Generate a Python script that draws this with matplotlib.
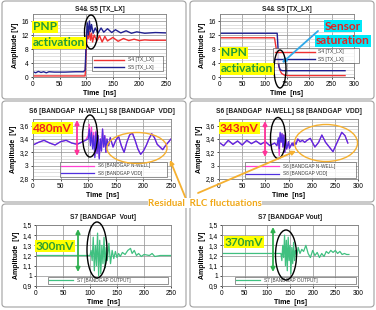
import matplotlib
matplotlib.use("Agg")
import matplotlib.pyplot as plt
from matplotlib.patches import Ellipse, FancyBboxPatch, FancyArrowPatch
from matplotlib.ticker import MultipleLocator

W, H = 376, 310
plt.rcParams['font.family'] = ['Liberation Sans', 'DejaVu Sans']
fig = plt.figure(figsize=(W / 100, H / 100), dpi=100)

# ---------------- data ----------------
p1_title = "S4& S5 [TX_LX]"
p1_s4_x = [0, 95, 98, 100, 102, 104, 106, 108, 110, 112, 115, 120, 125, 130, 135, 140, 150, 160, 170, 180, 190, 200, 210, 220, 250]
p1_s4_y = [0.3, 0.3, 0.3, 8, 12, 11, 13, 10.5, 12.5, 10, 12, 10.3, 11.8, 10, 11.6, 10.3, 11.3, 10.2, 11.0, 10.4, 10.8, 10.4, 10.6, 10.5, 10.5]
p1_s5_x = [0, 5, 10, 15, 20, 25, 30, 40, 60, 80, 95, 98, 100, 102, 104, 106, 108, 110, 113, 117, 122, 128, 133, 140, 148, 155, 165, 175, 185, 195, 210, 230, 250]
p1_s5_y = [1.5, 1.2, 1.6, 1.3, 1.5, 1.2, 1.5, 1.4, 1.4, 1.5, 1.5, 2, 10, 15.5, 12, 16, 13, 15, 12.5, 14, 12.5, 14, 12.8, 13.8, 12.7, 13.5, 12.6, 13.2, 12.5, 12.9, 12.5, 12.7, 12.6]

p2_title = "S4& S5 [TX_LX]"
p2_s4_x = [0, 122, 126, 130, 134, 138, 145, 155, 280]
p2_s4_y = [11.2, 11.2, 8, 4, 2, 1, 0.5, 0.4, 0.4]
p2_s5_x = [0, 128, 130, 132, 135, 140, 280]
p2_s5_y = [12.5, 12.5, 8, 3, 2, 1.8, 1.8]

series_tx = ["S4 [TX_LX]", "S5 [TX_LX]"]

p3_title = "S6 [BANDGAP  N-WELL] S8 [BANDGAP  VDD]"
p3_x = [0, 10, 20, 30, 40, 50, 60, 70, 80, 90, 95, 100, 102, 104, 106, 108, 110, 112, 114, 116, 118, 120, 122, 124, 126, 128, 130, 132, 134, 137, 140, 145, 150, 155, 160, 165, 170, 175, 180, 185, 190, 195, 200, 205, 210, 215, 220, 225, 230, 235, 240, 245, 250]
p3_s8 = [3.31, 3.35, 3.38, 3.34, 3.31, 3.36, 3.38, 3.34, 3.32, 3.36, 3.38, 3.40, 3.55, 3.30, 3.50, 3.25, 3.45, 3.12, 3.50, 3.18, 3.45, 3.10, 3.40, 3.22, 3.55, 3.28, 3.45, 3.20, 3.40, 3.30, 3.42, 3.28, 3.38, 3.44, 3.30, 3.20, 3.35, 3.46, 3.49, 3.38, 3.25, 3.17, 3.22, 3.30, 3.40, 3.48, 3.42, 3.32, 3.28, 3.24, 3.30, 3.35, 3.40]
p3_s6 = [3.31, 3.35, 3.38, 3.34, 3.31, 3.36, 3.38, 3.34, 3.32, 3.36, 3.38, 3.45, 3.62, 3.35, 3.58, 3.28, 3.50, 3.15, 3.52, 3.20, 3.45, 3.12, 3.40, 3.22, 3.55, 3.28, 3.45, 3.20, 3.40, 3.30, 3.42, 3.28, 3.38, 3.44, 3.30, 3.20, 3.35, 3.46, 3.49, 3.38, 3.25, 3.17, 3.22, 3.30, 3.40, 3.48, 3.42, 3.32, 3.28, 3.24, 3.30, 3.35, 3.40]

p4_x = [0, 10, 20, 30, 40, 50, 60, 70, 80, 90, 100, 110, 120, 125, 128, 130, 132, 134, 136, 138, 140, 142, 144, 146, 148, 150, 152, 155, 158, 160, 163, 166, 170, 175, 180, 185, 190, 197, 207, 215, 222, 230, 238, 246, 255, 265, 272, 278]
p4_s8 = [3.35, 3.30, 3.38, 3.32, 3.37, 3.31, 3.38, 3.33, 3.37, 3.32, 3.36, 3.30, 3.34, 3.30, 3.42, 3.25, 3.50, 3.35, 3.48, 3.28, 3.46, 3.20, 3.40, 3.25, 3.30, 3.36, 3.26, 3.30, 3.34, 3.30, 3.36, 3.32, 3.40, 3.36, 3.38, 3.35, 3.38, 3.41, 3.28, 3.35, 3.46, 3.35, 3.28, 3.21, 3.35, 3.50, 3.45, 3.34]
p4_s6 = [3.35, 3.30, 3.38, 3.32, 3.37, 3.31, 3.38, 3.33, 3.37, 3.32, 3.36, 3.30, 3.34, 3.30, 3.40, 3.15, 3.48, 3.35, 3.48, 3.28, 3.46, 3.20, 3.40, 3.25, 3.30, 3.36, 3.26, 3.30, 3.34, 3.30, 3.36, 3.32, 3.40, 3.36, 3.38, 3.35, 3.38, 3.41, 3.28, 3.35, 3.46, 3.35, 3.28, 3.21, 3.35, 3.50, 3.45, 3.34]

series_bg = ["S6 [BANDGAP N-WELL]", "S8 [BANDGAP VDD]"]

p5_title = "S7 [BANDGAP  Vout]"
p5_x = [0, 50, 100, 102, 104, 106, 108, 110, 112, 114, 116, 118, 120, 122, 124, 126, 128, 130, 132, 135, 138, 141, 144, 147, 150, 153, 156, 160, 165, 170, 175, 178, 182, 186, 190, 195, 200, 210, 215, 220, 230, 240, 250]
p5_s7 = [1.2, 1.2, 1.2, 1.25, 1.15, 1.38, 1.05, 1.30, 1.10, 1.42, 1.00, 1.35, 1.02, 1.30, 1.12, 1.38, 1.08, 1.28, 1.15, 1.32, 1.12, 1.25, 1.17, 1.24, 1.18, 1.22, 1.19, 1.23, 1.21, 1.25, 1.27, 1.22, 1.25, 1.20, 1.22, 1.19, 1.21, 1.20, 1.22, 1.19, 1.20, 1.20, 1.20]

p6_title = "S7 [BANDGAP Vout]"
p6_x = [0, 60, 130, 132, 134, 136, 138, 140, 142, 144, 146, 148, 150, 152, 154, 156, 158, 160, 162, 165, 168, 172, 176, 180, 185, 190, 195, 200, 205, 210, 215, 220, 225, 230, 235, 240, 245, 250, 255, 260, 265, 270, 275, 280]
p6_s7 = [1.22, 1.22, 1.22, 1.15, 1.30, 1.18, 1.40, 1.10, 1.35, 1.05, 1.38, 1.15, 1.30, 1.02, 1.28, 1.12, 1.33, 1.15, 1.25, 1.20, 1.28, 1.22, 1.26, 1.24, 1.30, 1.22, 1.18, 1.25, 1.20, 1.23, 1.18, 1.22, 1.19, 1.24, 1.22, 1.25, 1.23, 1.25, 1.22, 1.24, 1.21, 1.22, 1.21, 1.21]
series_out = "S7 [BANDGAP OUTPUT]"

tx_yticks = [0, 4, 8, 12, 16]
tx_ylabels = ["0", "4", "8", "12", "16"]
bg_yticks = [2.8, 3.0, 3.2, 3.4, 3.6]
bg_ylabels = ["2,8", "3", "3,2", "3,4", "3,6"]
out_yticks = [0.9, 1.0, 1.1, 1.2, 1.3, 1.4, 1.5]
out_ylabels = ["0,9", "1", "1,1", "1,2", "1,3", "1,4", "1,5"]
x250 = [0, 50, 100, 150, 200, 250]
x300 = [0, 50, 100, 150, 200, 250, 300]

RED = "#f03030"
NAVY = "#202090"
PINK = "#ff40d0"
BLUE = "#5030e0"
GREEN = "#40c080"


def px_axes(l, t, r, b):
    return fig.add_axes([l / W, 1 - b / H, (r - l) / W, (b - t) / H])


def style(ax, title, xt, yt, yl, ylim, minor=None, tpad=2):
    ax.set_xlim(xt[0], xt[-1])
    ax.set_ylim(*ylim)
    ax.set_xticks(xt)
    ax.set_xticklabels([str(v) for v in xt], fontsize=4.8)
    ax.set_yticks(yt)
    ax.set_yticklabels(yl, fontsize=4.8)
    if minor:
        ax.yaxis.set_minor_locator(MultipleLocator(minor))
        ax.grid(True, which='minor', axis='y', color='#c8c8c8', lw=0.4)
    ax.grid(True, which='major', color='#909090', lw=0.5)
    ax.tick_params(length=1.5, width=0.5, pad=1.5, which='both')
    ax.tick_params(which='minor', length=0)
    for s in ax.spines.values():
        s.set_color('#808080')
        s.set_linewidth(0.6)
    ax.set_title(title, fontsize=4.8, fontweight='bold', pad=tpad, color='#202020')
    ax.set_xlabel("Time  [ns]", fontsize=5, fontweight='bold', labelpad=1)
    ax.set_ylabel("Amplitude [V]" if ylim[1] > 10 else "Amplitude  [V]", fontsize=5, fontweight='bold', labelpad=2)
    ax.set_axisbelow(True)


def legend(ax, l, t, r, b, hl, fs=3.6):
    leg = ax.legend(loc='center', bbox_to_anchor=(l / W, 1 - b / H, (r - l) / W, (b - t) / H),
                    bbox_transform=fig.transFigure, mode='expand', fontsize=fs,
                    handlelength=hl, frameon=True, fancybox=False, borderpad=0.3,
                    labelspacing=0.5, handletextpad=0.8, borderaxespad=0)
    leg.get_frame().set_edgecolor('#404040')
    leg.get_frame().set_linewidth(0.5)
    for t_ in leg.get_texts():
        t_.set_color('#404040')
    return leg


# panel boxes (drawn beneath axes)
for (l, t, r, b) in [(2, 1, 186, 99), (190, 1, 374, 99), (2, 101, 186, 202),
                     (190, 101, 374, 202), (2, 204, 186, 307), (190, 204, 374, 307)]:
    fig.patches.append(FancyBboxPatch((l / W, 1 - b / H), (r - l) / W, (b - t) / H,
                                      boxstyle="round,pad=0,rounding_size=0.01",
                                      transform=fig.transFigure, fc='white', ec='#a0a0a0',
                                      lw=0.8, zorder=-5))

# panel 1
a1 = px_axes(33, 14, 166, 77)
a1.plot(p1_s4_x, p1_s4_y, color=RED, lw=1.0, label=series_tx[0])
a1.plot(p1_s5_x, p1_s5_y, color=NAVY, lw=1.0, label=series_tx[1])
style(a1, p1_title, x250, tx_yticks, tx_ylabels, (0, 18), minor=1)
legend(a1, 92, 55, 163, 72, hl=6)

# panel 2
a2 = px_axes(220, 14, 354, 77)
a2.plot(p2_s4_x, p2_s4_y, color=RED, lw=1.0, label=series_tx[0])
a2.plot(p2_s5_x, p2_s5_y, color=NAVY, lw=1.0, label=series_tx[1])
style(a2, p2_title, x300, tx_yticks, tx_ylabels, (0, 18), minor=1)
legend(a2, 273, 46, 359, 65, hl=8)

# panel 3
a3 = px_axes(33, 119, 171, 179)
a3.plot(p3_x, p3_s6, color=PINK, lw=0.9, label=series_bg[0])
a3.plot(p3_x, p3_s8, color=BLUE, lw=0.9, label=series_bg[1])
style(a3, p3_title, x250, bg_yticks, bg_ylabels, (2.8, 3.7), minor=0.05, tpad=4)
legend(a3, 60, 161, 167, 178, hl=7, fs=3.4)

# panel 4
a4 = px_axes(219, 119, 358, 179)
a4.plot(p4_x, p4_s6, color=PINK, lw=0.9, label=series_bg[0])
a4.plot(p4_x, p4_s8, color=BLUE, lw=0.9, label=series_bg[1])
style(a4, p3_title, x300, bg_yticks, bg_ylabels, (2.8, 3.7), minor=0.05, tpad=4)
legend(a4, 245, 162, 356, 178, hl=7, fs=3.4)

# panel 5
a5 = px_axes(36, 225, 171, 286)
a5.plot(p5_x, p5_s7, color=GREEN, lw=0.9, label=series_out)
style(a5, p5_title, x250, out_yticks, out_ylabels, (0.9, 1.5), tpad=4)
legend(a5, 48, 276, 168, 285, hl=5, fs=3.4)

# panel 6
a6 = px_axes(222, 225, 358, 286)
a6.plot(p6_x, p6_s7, color=GREEN, lw=0.9, label=series_out)
style(a6, p6_title, x300, out_yticks, out_ylabels, (0.9, 1.5), tpad=4)
legend(a6, 235, 276, 356, 285, hl=5, fs=3.4)

# overlay for annotations
ov = fig.add_axes([0, 0, 1, 1], zorder=20)
ov.set_xlim(0, W)
ov.set_ylim(H, 0)
ov.axis('off')
ov.patch.set_alpha(0)

FONT = ['Lato', 'DejaVu Sans']
YEL = '#ffff00'
TG = '#1f9a3a'


def label(x, y, s, color, bg, size=8.6, ha='left'):
    ov.text(x, y, s, fontsize=size, fontweight='bold', color=color, family=FONT,
            ha=ha, va='center',
            bbox=dict(boxstyle='square,pad=0.08', fc=bg, ec='none'))


label(33, 27, "PNP", TG, YEL)
label(33, 43, "activation", TG, YEL)
label(221, 53, "NPN", TG, YEL)
label(221, 69, "activation", TG, YEL)
label(343, 26, "Sensor", '#e82020', '#00e8f8', ha='center')
label(343, 41, "saturation", '#e82020', '#00e8f8', ha='center')
ov.add_patch(FancyArrowPatch((318, 31), (282, 63), arrowstyle='-|>', mutation_scale=6,
                             color='#30a8e8', lw=1.3, shrinkA=0, shrinkB=0))

label(33, 128, "480mV", '#f02020', YEL)
label(220, 128, "343mV", '#f02020', YEL)
label(36, 246, "300mV", '#30a030', YEL)
label(225, 242, "370mV", '#30a030', YEL)

# double arrows
for (x, y0, y1, c) in [(77, 120, 156, '#ff3399'), (265, 121, 157, '#ff3399'),
                       (78, 229, 272, '#30b050'), (273, 227, 272, '#30b050')]:
    ov.add_patch(FancyArrowPatch((x, y0), (x, y1), arrowstyle='<|-|>', mutation_scale=6,
                                 color=c, lw=1.3, shrinkA=0, shrinkB=0))

# black ellipses
for (cx, cy, w, h) in [(91, 32, 13, 34), (280, 69, 12, 38), (90, 136, 15, 42),
                       (278, 138, 15, 41), (97, 250, 20, 56), (286, 255, 21, 50)]:
    ov.add_patch(Ellipse((cx, cy), w, h, fc='none', ec='black', lw=1.0))

# orange ellipses
ORG = '#f5b030'
ov.add_patch(Ellipse((137, 148), 60, 31, fc='none', ec=ORG, lw=1.0))
ov.add_patch(Ellipse((326, 143), 63, 37, fc='none', ec=ORG, lw=1.0))
ov.add_patch(FancyArrowPatch((186, 199), (170, 160), arrowstyle='-|>', mutation_scale=6,
                             color=ORG, lw=1.3, shrinkA=0, shrinkB=0))
ov.add_patch(FancyArrowPatch((198, 193), (296, 151), arrowstyle='-|>', mutation_scale=6,
                             color=ORG, lw=1.3, shrinkA=0, shrinkB=0))
ov.text(148, 203, "Residual  RLC fluctuations", fontsize=7, fontweight='bold', color='#f0a818',
        family=FONT, ha='left', va='center',
        bbox=dict(boxstyle='square,pad=0.05', fc='white', ec='none'))

fig.savefig("out.png", dpi=100)
